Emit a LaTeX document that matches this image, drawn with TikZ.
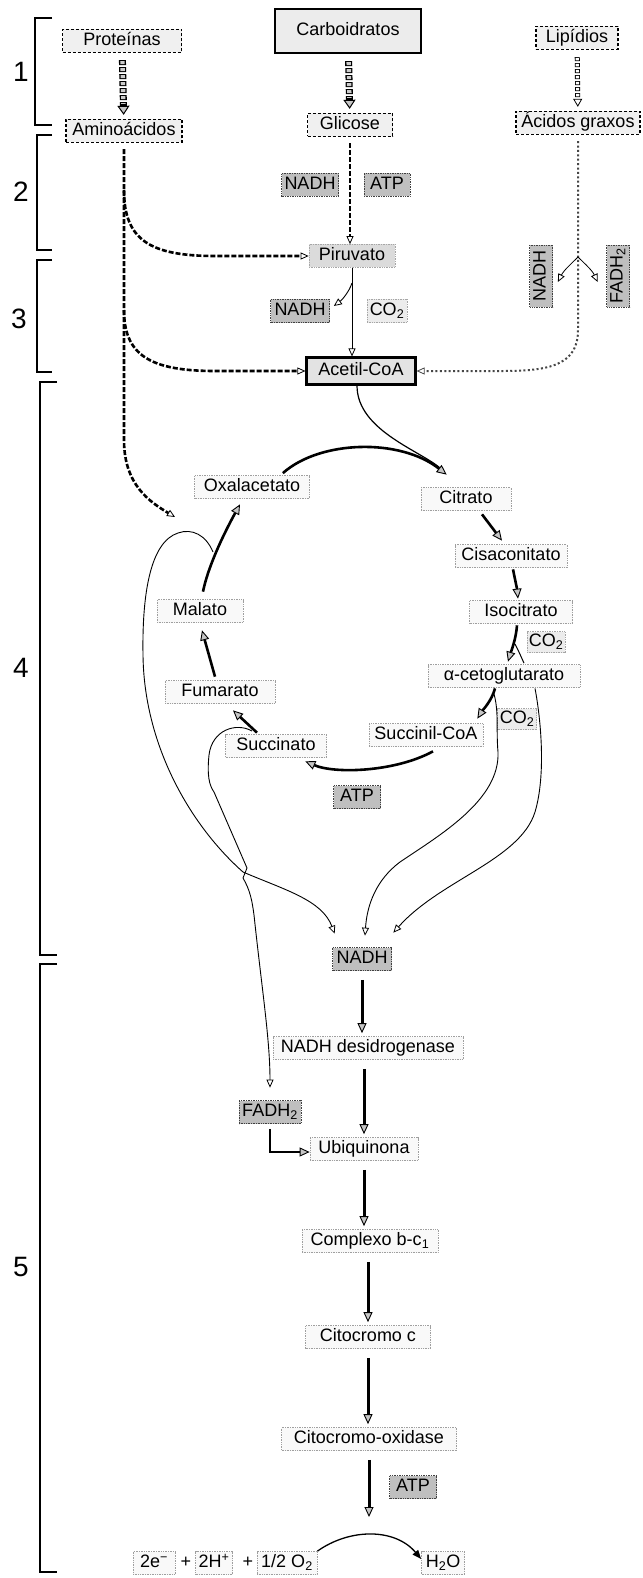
\documentclass[tikz,border=0pt]{standalone}
\usepackage{fontspec}
\setmainfont{Liberation Sans}
\usetikzlibrary{arrows.meta}
\begin{document}
\begin{tikzpicture}[x=1pt,y=-1pt,
  every node/.style={font=\fontsize{18}{20}\selectfont, inner xsep=0pt, inner ysep=3pt, text height=13pt, text depth=4pt},
  lbl/.style={draw=gray!75, densely dotted, line width=0.7pt, fill=gray!5},
  srcbox/.style={draw=black, densely dashed, line width=1.3pt, fill=gray!12},
  heavybox/.style={draw=black, line width=2.2pt, fill=gray!15},
  dark/.style={draw=gray!50!black, densely dotted, line width=0.7pt, fill=gray!50},
  midbox/.style={draw=gray!70, densely dotted, line width=0.7pt, fill=gray!28},
  gas/.style={draw=gray!70, densely dotted, line width=0.7pt, fill=gray!15},
  num/.style={font=\fontsize{28}{30}\selectfont, text height=20pt, text depth=0pt, inner sep=0pt},
  sign/.style={inner sep=0pt},
  bracketline/.style={line width=2.2pt},
  grayhead/.style={-{Triangle[length=10pt,width=9pt,line width=0.9pt,fill=gray!45]}},
  openhead/.style={-{Triangle[open,length=8pt,width=7pt,line width=0.8pt]}},
  chain/.style={line width=2.6pt, dash pattern=on 5pt off 2pt, openhead},
  trunk/.style={line width=3pt, grayhead, shorten <=9pt, shorten >=3pt},
  cycarrow/.style={line width=2.6pt, grayhead},
  feed/.style={line width=0.9pt, openhead},
  branch/.style={line width=1pt},
  fatline/.style={line width=2pt, draw=gray!55!black, dash pattern=on 2pt off 2.4pt}
]
\fill[white] (0,0) rectangle (642,1578);
\useasboundingbox (0,0) rectangle (642,1578);

% stage brackets
\draw[bracketline] (52,18) -- (35,18) -- (35,125) -- (52,125);
\draw[bracketline] (52,135) -- (37,135) -- (37,250) -- (52,250);
\draw[bracketline] (52,260) -- (37,260) -- (37,372) -- (52,372);
\draw[bracketline] (57,382) -- (40,382) -- (40,955) -- (57,955);
\draw[bracketline] (57,964) -- (40,964) -- (40,1572) -- (57,1572);
\node[num] (s1) at (21,72) {1};
\node[num] (s2) at (21,192) {2};
\node[num] (s3) at (19,318) {3};
\node[num] (s4) at (21,667) {4};
\node[num] (s5) at (21,1266) {5};

% nutrients
\node[srcbox, minimum width=119pt] (prot) at (122,41) {Proteínas};
\node[heavybox, minimum width=146pt, minimum height=44pt] (carb) at (348,31) {Carboidratos};
\node[srcbox, minimum width=82pt] (lip) at (577,38) {Lipídios};
\node[srcbox, minimum width=116pt] (amino) at (124,131) {Aminoácidos};
\node[srcbox, minimum width=85pt] (glic) at (350,125) {Glicose};
\node[srcbox, minimum width=124pt] (acgr) at (578,123) {Ácidos graxos};

% glycolysis and pyruvate oxidation
\node[dark, minimum width=57pt] (nadhA) at (310,185) {NADH};
\node[dark, minimum width=46pt] (atpA) at (387,185) {ATP};
\node[midbox, minimum width=86pt] (piru) at (352,256) {Piruvato};
\node[dark, minimum width=59pt] (nadhB) at (300,311) {NADH};
\node[gas, minimum width=40pt] (coA) at (387,311) {CO\textsubscript{2}};
\node[dark, minimum width=62pt, rotate=90] (nadhC) at (541,276) {NADH};
\node[dark, minimum width=62pt, rotate=90] (fadhA) at (618,276) {FADH\textsubscript{2}};
\node[heavybox, fill=gray!22, minimum width=109pt, minimum height=27pt] (acet) at (361,371) {Acetil-CoA};

% citric acid cycle
\node[lbl, minimum width=115pt] (oxal) at (252,487) {Oxalacetato};
\node[lbl, minimum width=90pt] (cit) at (466,499) {Citrato};
\node[lbl, minimum width=112pt] (cis) at (511,556) {Cisaconitato};
\node[lbl, minimum width=103pt] (iso) at (521,612) {Isocitrato};
\node[gas, minimum width=38pt, inner ysep=2pt] (coB) at (546,642) {CO\textsubscript{2}};
\node[lbl, minimum width=152pt] (akg) at (504,676) {α-cetoglutarato};
\node[gas, minimum width=39pt, inner ysep=2pt] (coC) at (517,719) {CO\textsubscript{2}};
\node[lbl, minimum width=114pt] (suc) at (426,735) {Succinil-CoA};
\node[lbl, minimum width=101pt] (sct) at (276,746) {Succinato};
\node[lbl, minimum width=110pt] (fum) at (220,692) {Fumarato};
\node[lbl, minimum width=86pt] (mal) at (200,611) {Malato};
\node[dark, minimum width=47pt] (atpB) at (357,797) {ATP};

% respiratory chain
\node[dark, minimum width=59pt] (nadh) at (362,959) {NADH};
\node[lbl, minimum width=190pt] (nadhd) at (368,1048) {NADH desidrogenase};
\node[dark, minimum width=62pt] (fadh) at (270,1112) {FADH\textsubscript{2}};
\node[lbl, minimum width=108pt] (ubi) at (364,1149) {Ubiquinona};
\node[lbl, minimum width=136pt] (comp) at (370,1241) {Complexo b-c\textsubscript{1}};
\node[lbl, minimum width=125pt] (citc) at (368,1337) {Citocromo c};
\node[lbl, minimum width=175pt] (cox) at (369,1439) {Citocromo-oxidase};
\node[dark, minimum width=47pt] (atpC) at (413,1487) {ATP};
\coordinate (rxn) at (368,1517);

% final reaction
\node[lbl, minimum width=42pt] (e2) at (154,1563) {2e\textsuperscript{−}};
\node[sign] (p1) at (186,1563) {+};
\node[lbl, minimum width=37pt] (h2) at (214,1563) {2H\textsuperscript{+}};
\node[sign] (p2) at (248,1563) {+};
\node[lbl, minimum width=60pt] (o2) at (287,1563) {1/2 O\textsubscript{2}};
\node[lbl, minimum width=43pt] (h2o) at (443,1563) {H\textsubscript{2}O};

% stage 1: digestion chains
\draw[line width=7pt, dash pattern=on 5pt off 2pt, shorten <=7pt, shorten >=4pt,
  -{Triangle[length=9pt,width=12pt,line width=1pt,fill=gray!45]}] (prot) -- (amino);
\draw[line width=4.4pt, gray!40, dash pattern=on 3pt off 4pt, dash phase=6pt, shorten <=7pt, shorten >=15pt] (prot) -- (amino);
\draw[line width=7pt, dash pattern=on 5pt off 2pt, shorten <=7pt, shorten >=4pt,
  -{Triangle[length=9pt,width=12pt,line width=1pt,fill=gray!45]}] (carb) -- (glic);
\draw[line width=4.4pt, gray!40, dash pattern=on 3pt off 4pt, dash phase=6pt, shorten <=7pt, shorten >=15pt] (carb) -- (glic);
\draw[line width=5pt, dash pattern=on 4pt off 2pt, shorten <=7pt, shorten >=4pt,
  -{Triangle[open,length=8pt,width=9pt,line width=0.8pt]}] (lip) -- (acgr);
\draw[line width=3.2pt, white, dash pattern=on 2.4pt off 3.6pt, dash phase=5.2pt, shorten <=7pt, shorten >=13pt] (lip) -- (acgr);

% stage 2 and 3: dashed routes
\coordinate (aa1) at (124,190);
\coordinate (aa2) at (124,310);
\coordinate (oxin) at (175,517);
\draw[chain, shorten <=6pt] (amino.south) -- (124,440) .. controls (124,485) and (150,502) .. (oxin);
\draw[chain] (aa1) .. controls (124,240) and (150,256) .. (215,256) -- (piru.west);
\draw[chain] (aa2) .. controls (124,355) and (150,371) .. (215,371) -- (acet.west);
\draw[chain, shorten <=6pt] (glic.south) -- (glic.south |- piru.north);

% fatty acid oxidation
\coordinate (fabr) at (578,257);
\draw[fatline, openhead, shorten <=6pt] (acgr.south) -- (578,330) .. controls (578,362) and (555,371) .. (505,371) -- (acet.east);
\draw[feed, line width=0.8pt] (fabr) .. controls (572,263) and (564,270) .. ([xshift=5pt,yshift=-6pt]nadhC.south);
\draw[feed, line width=0.8pt] (fabr) .. controls (584,263) and (592,270) .. ([xshift=-8.5pt,yshift=-6pt]fadhA.north);

% pyruvate to acetyl-CoA
\coordinate (pibr) at (352,283);
\draw[feed] (piru.south) -- (piru.south |- acet.north);
\draw[feed] (pibr) .. controls (349,292) and (342,300) .. ([xshift=4pt,yshift=5pt]nadhB.east);

% entry into the cycle
\draw[line width=1.2pt, shorten >=6pt] ([xshift=-4pt]acet.south) .. controls (357,432) and (425,452) .. ([xshift=26pt,yshift=12.5pt]cit.north west);
\draw[cycarrow] ([xshift=-27pt,yshift=2pt]oxal.north east) .. controls (320,440) and (400,438) .. ([xshift=26pt,yshift=12.5pt]cit.north west);

% cycle steps
\draw[cycarrow] ([xshift=16pt,yshift=-3.5pt]cit.south) -- ([xshift=-9pt,yshift=3.5pt]cis.north);
\draw[cycarrow] ([xshift=2pt,yshift=-1.5pt]cis.south) .. controls +(2,10) and +(-1,-10) .. ([xshift=-3pt,yshift=1.5pt]iso.north);
\coordinate (isobr) at (515,644);
\draw[cycarrow] ([xshift=-4pt,yshift=-1.5pt]iso.south) .. controls +(-1,14) and +(3,-10) .. ([xshift=4pt,yshift=2.5pt]akg.north);
\draw[branch] (isobr) .. controls +(4,8) .. ([xshift=20pt,yshift=1pt]akg.north);
\draw[cycarrow] ([xshift=-9pt,yshift=-0.5pt]akg.south) .. controls +(-3,12) and +(5,-8) .. ([xshift=-6pt,yshift=4.5pt]suc.north east);
\draw[cycarrow] ([xshift=7pt,yshift=-4.5pt]suc.south) .. controls (395,772) and (335,774) .. ([xshift=-21.5pt,yshift=-3.5pt]sct.south east);
\draw[cycarrow] ([xshift=-19pt,yshift=1.5pt]sct.north) -- ([xshift=13pt,yshift=-6.5pt]fum.south);
\draw[cycarrow] ([xshift=-5pt,yshift=3.5pt]fum.north) -- ([xshift=2pt,yshift=-7.5pt]mal.south);
\draw[cycarrow] ([xshift=3pt,yshift=7.5pt]mal.north) .. controls +(6,-30) and +(-10,18) .. ([xshift=-12pt,yshift=-5.5pt]oxal.south);

% reduced carriers leaving the cycle
\coordinate (akgbr) at (494,694);
\coordinate (malbr) at (213,552);
\coordinate (sctbr) at (252,731);
\draw[feed] (akgbr) .. controls (499,712) and (496,730) .. (498,752) .. controls (500,800) and (440,835) .. (400,862) .. controls (376,880) and (367,905) .. ([xshift=3pt,yshift=11.5pt]nadh.north);
\draw[feed] ([xshift=31pt,yshift=-0.5pt]akg.south) .. controls (541,720) and (546,775) .. (535,812) .. controls (520,860) and (440,880) .. ([xshift=1.5pt,yshift=14.5pt]nadh.north east);
\draw[feed] (malbr) .. controls (206,535) and (192,528) .. (178,533) .. controls (150,542) and (142,595) .. (143,655) .. controls (144,745) and (190,825) .. (243,872) .. controls (285,890) and (322,900) .. ([xshift=2.5pt,yshift=13.5pt]nadh.north west);
\draw[feed] (sctbr) .. controls (236,722) and (212,730) .. (209,755) .. controls (207,775) and (209,785) .. (214,792) -- (247,868) -- (243,878) .. controls (250,890) and (252,900) .. (254,915) .. controls (262,990) and (270,1040) .. ([yshift=12.5pt]fadh.north);

% electron transport chain
\draw[trunk] (nadh.south) -- (nadh.south |- nadhd.north);
\draw[trunk] (nadhd.south -| ubi.north) -- (ubi.north);
\draw[trunk] (ubi.south) -- (ubi.south |- comp.north);
\draw[trunk] (comp.south -| citc.north) -- (citc.north);
\draw[trunk] (citc.south) -- (citc.south |- cox.north);
\draw[trunk, shorten >=0pt] (cox.south) -- (cox.south |- rxn);
\draw[line width=2.2pt, grayhead, shorten <=5pt] (fadh.south) |- ([yshift=-3pt]ubi.west);
\draw[line width=1.3pt, -{Triangle[length=9pt,width=7pt]}] (o2.north east) .. controls (350,1528) and (395,1528) .. ([yshift=4pt]h2o.west);
\end{tikzpicture}
\end{document}
